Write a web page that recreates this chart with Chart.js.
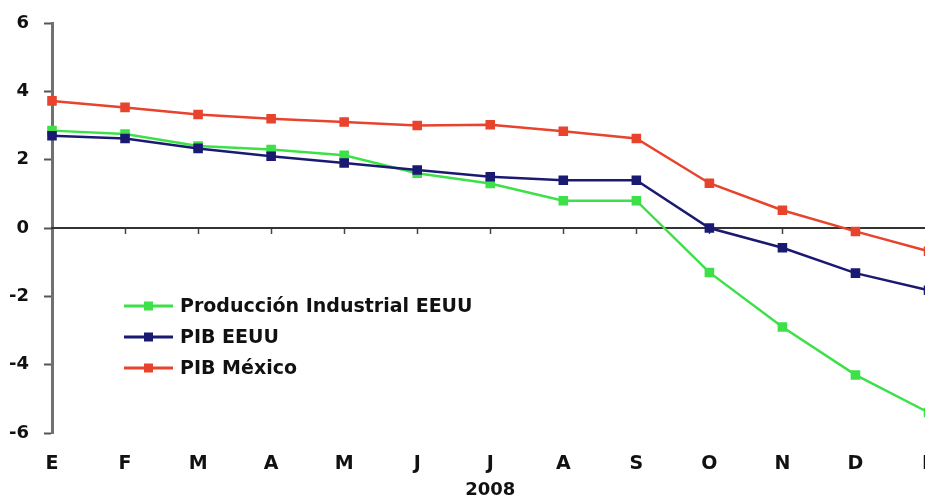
<!DOCTYPE html>
<html>
<head>
<meta charset="utf-8">
<script src="https://cdn.jsdelivr.net/npm/chart.js@4/dist/chart.umd.min.js"></script>
<style>
  html, body { margin: 0; padding: 0; background: #fff; overflow: hidden; }
  #wrap { width: 955px; height: 501px; }
</style>
</head>
<body>
<div id="wrap"><canvas id="chart" width="955" height="501"></canvas></div>
<script>
// meses de 2008 (y enero siguiente)
var meses = ['E', 'F', 'M', 'A', 'M', 'J', 'J', 'A', 'S', 'O', 'N', 'D', 'E'];

var prodIndustrialEEUU = [2.85, 2.75, 2.4, 2.3, 2.13, 1.6, 1.3, 0.8, 0.8, -1.3, -2.9, -4.3, -5.4];
var pibEEUU = [2.7, 2.62, 2.33, 2.1, 1.9, 1.7, 1.5, 1.4, 1.4, 0.0, -0.58, -1.32, -1.82];
var pibMexico = [3.72, 3.53, 3.32, 3.2, 3.1, 3.0, 3.02, 2.83, 2.62, 1.31, 0.52, -0.1, -0.68];

var yTicks = [-6, -4, -2, 0, 2, 4, 6];
var tituloX = '2008';

var VERDE = '#3ee04a';
var AZUL = '#1b1a72';
var ROJO = '#e8432d';
var FUENTE = "'DejaVu Sans', 'Liberation Sans', Arial, sans-serif";

// leyenda dibujada dentro del area del grafico
var leyendaInterna = {
    id: 'leyendaInterna',
    afterDatasetsDraw: function (chart) {
        var ctx = chart.ctx;
        var x0 = 124, y0 = 306, paso = 31;
        ctx.save();
        ctx.font = 'bold 19px ' + FUENTE;
        ctx.textBaseline = 'middle';
        chart.data.datasets.forEach(function (ds, i) {
            var y = y0 + i * paso;
            ctx.strokeStyle = ds.borderColor;
            ctx.lineWidth = 3;
            ctx.beginPath();
            ctx.moveTo(x0, y);
            ctx.lineTo(x0 + 49, y);
            ctx.stroke();
            ctx.fillStyle = ds.backgroundColor;
            ctx.fillRect(x0 + 20, y - 4.5, 9, 9);
            ctx.fillStyle = '#111';
            ctx.fillText(ds.label, x0 + 56, y + 1);
        });
        ctx.restore();
    }
};

function serie(label, data, color, orden) {
    return {
        label: label,
        data: data,
        borderColor: color,
        backgroundColor: color,
        borderWidth: 2.5,
        pointStyle: 'rect',
        pointRadius: 5,
        pointHoverRadius: 5,
        tension: 0,
        order: orden
    };
}

new Chart(document.getElementById('chart'), {
    type: 'line',
    data: {
        labels: meses,
        datasets: [
            serie('Producción Industrial EEUU', prodIndustrialEEUU, VERDE, 3),
            serie('PIB EEUU', pibEEUU, AZUL, 2),
            serie('PIB México', pibMexico, ROJO, 1)
        ]
    },
    options: {
        responsive: false,
        animation: false,
        layout: { padding: { top: 23, right: 12, left: 0, bottom: 0 } },
        plugins: {
            legend: { display: false },
            tooltip: { enabled: false }
        },
        scales: {
            y: {
                min: -6,
                max: 6,
                afterBuildTicks: function (scale) {
                    scale.ticks = yTicks.map(function (v) { return { value: v }; });
                },
                afterFit: function (scale) {
                    scale.width = 52;
                    scale.paddingTop = 0;
                    scale.paddingBottom = 0;
                },
                grid: {
                    display: true, drawOnChartArea: false, drawTicks: true,
                    tickLength: 8, tickColor: '#555', tickWidth: 2
                },
                border: { display: true, color: '#707070', width: 3 },
                ticks: {
                    color: '#111',
                    padding: 15,
                    font: { family: FUENTE, size: 18, weight: 'bold' }
                }
            },
            x: {
                type: 'category',
                position: { y: 0 },
                offset: false,
                grid: { display: true, drawOnChartArea: false, tickLength: 5, tickColor: '#444', tickWidth: 1.5 },
                border: { display: true, color: '#333', width: 2 },
                ticks: { display: false }
            },
            x2: {
                type: 'category',
                position: 'bottom',
                offset: false,
                afterFit: function (scale) { scale.height = 68; },
                grid: { display: false, drawTicks: false },
                border: { display: false },
                ticks: {
                    color: '#111',
                    padding: 20,
                    maxRotation: 0,
                    autoSkip: false,
                    font: { family: FUENTE, size: 19, weight: 'bold' }
                },
                title: {
                    display: true,
                    text: tituloX,
                    color: '#111',
                    padding: { top: 9, bottom: 0 },
                    font: { family: FUENTE, size: 18, weight: 'bold' }
                }
            }
        }
    },
    plugins: [leyendaInterna]
});
</script>
</body>
</html>
